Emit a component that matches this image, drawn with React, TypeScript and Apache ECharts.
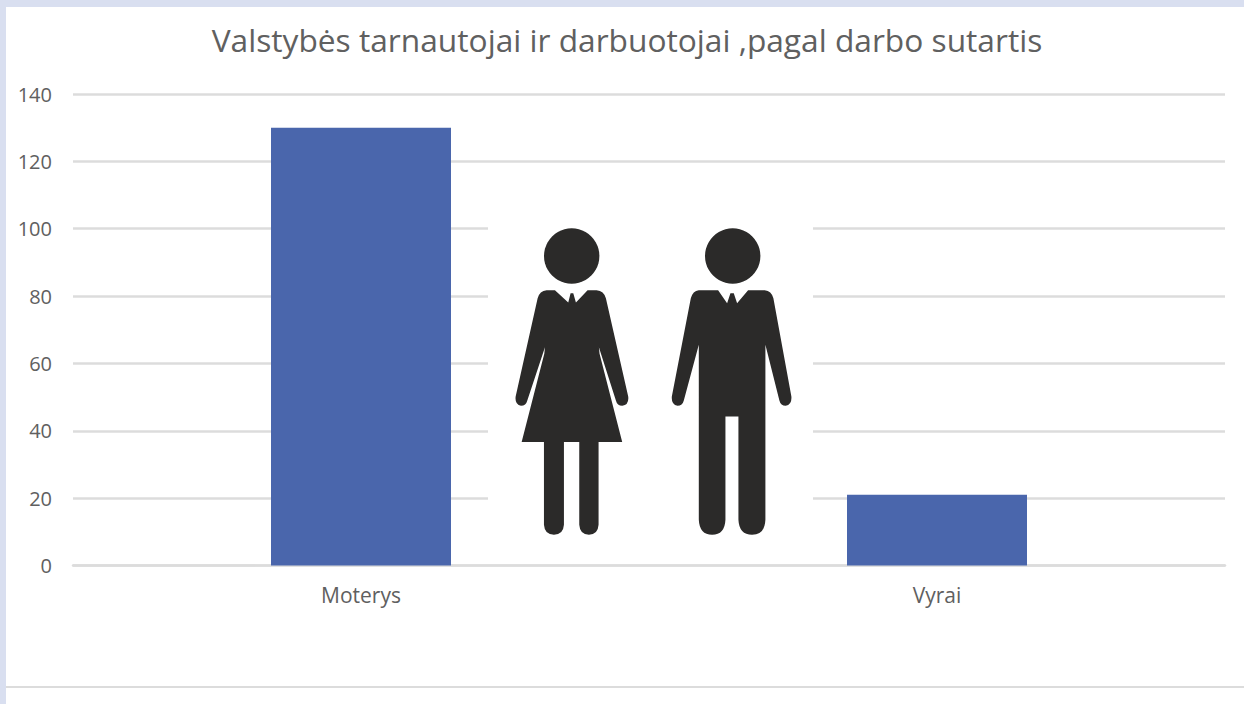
import React, { useEffect, useRef } from "react";
import * as echarts from "echarts";

const titleText = "Valstybės tarnautojai ir darbuotojai ,pagal darbo sutartis";
const categories = ["Moterys", "Vyrai"];
const values = [130, 21];
const axisMax = 140;
const axisStep = 20;

const womanBody =
  "M140 241 L165 241 L205 278 L212 250 L220 250 L228 278 L263 241 L290 241 Q312 243 318 265 L385 560 Q388 585 367 588 Q352 588 348 572 L297 412 L299 432 L367 697 L296 697 L296 945 Q294 975 267 975 Q240 975 238 945 L238 697 L192 697 L192 945 Q190 975 162 975 Q134 975 132 945 L132 697 L65 697 L133 432 L135 412 L82 572 Q78 588 63 588 Q44 585 47 560 L113 265 Q119 243 140 241 Z";
const manBody =
  "M597 241 L655 241 L682 280 L692 250 L702 250 L712 280 L745 241 L795 241 Q815 243 821 265 L875 560 Q877 585 858 588 Q843 588 839 572 L797 405 L797 930 Q795 975 757 975 Q718 975 716 930 L716 620 L677 620 L677 930 Q675 975 637 975 Q599 975 597 930 L597 405 L552 572 Q548 588 533 588 Q514 585 516 560 L573 265 Q579 243 597 241 Z";

echarts.graphic.registerShape("womanBody", echarts.graphic.extendPath(womanBody, {}) as any);
echarts.graphic.registerShape("manBody", echarts.graphic.extendPath(manBody, {}) as any);

const FONT = "'Open Sans', 'Noto Sans', sans-serif";
const BAND = "#d9dff0";
const INK = "#2b2a29";
const TEXT = "#606060";
const LINE = "#dcdcdc";

export default function App() {
  const ref = useRef<HTMLDivElement>(null);
  useEffect(() => {
    document.body.style.margin = "0";
    const chart = echarts.init(ref.current!, undefined, { renderer: "svg" });
    chart.setOption({
      animation: false,
      backgroundColor: "#ffffff",
      title: {
        text: titleText,
        left: 622,
        top: 18,
        textAlign: "center",
        textStyle: { fontFamily: FONT, fontSize: 31.7, fontWeight: "normal", color: TEXT },
      },
      grid: { left: 73, right: 19, top: 94, height: 471.5 },
      xAxis: {
        type: "category",
        data: categories,
        axisLine: { lineStyle: { color: LINE, width: 2.5 } },
        axisTick: { show: false },
        axisLabel: { fontFamily: FONT, fontSize: 21, color: TEXT, margin: 19 },
      },
      yAxis: {
        type: "value",
        min: 0,
        max: axisMax,
        interval: axisStep,
        axisLine: { show: false },
        axisTick: { show: false },
        splitLine: { lineStyle: { color: LINE, width: 2.5 } },
        axisLabel: { fontFamily: FONT, fontSize: 20, color: TEXT, margin: 21 },
      },
      series: [
        { type: "bar", data: values, barWidth: 180, itemStyle: { color: "#4a66ac" } },
      ],
      graphic: [
        { type: "rect", z: 100, shape: { x: 0, y: 0, width: 1244, height: 7 }, style: { fill: BAND }, silent: true },
        { type: "rect", z: 100, shape: { x: 0, y: 0, width: 6, height: 704 }, style: { fill: BAND }, silent: true },
        { type: "rect", z: 100, shape: { x: 6, y: 686, width: 1238, height: 2 }, style: { fill: LINE }, silent: true },
        { type: "rect", z: 100, shape: { x: 488, y: 215, width: 325, height: 335 }, style: { fill: "#ffffff" }, silent: true },
        { type: "circle", z: 101, shape: { cx: 571.7, cy: 256, r: 27.7 }, style: { fill: INK }, silent: true },
        { type: "circle", z: 101, shape: { cx: 732.7, cy: 256, r: 27.7 }, style: { fill: INK }, silent: true },
        { type: "womanBody", z: 101, x: 500, y: 210, scaleX: 1 / 3, scaleY: 1 / 3, style: { fill: INK }, silent: true },
        { type: "manBody", z: 101, x: 500, y: 210, scaleX: 1 / 3, scaleY: 1 / 3, style: { fill: INK }, silent: true },
      ],
    });
    return () => chart.dispose();
  }, []);
  return <div ref={ref} style={{ width: 1244, height: 704 }} />;
}
